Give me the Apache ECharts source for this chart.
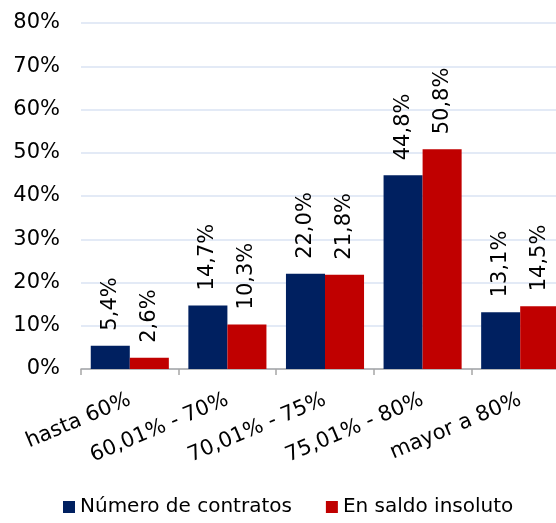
<!DOCTYPE html>
<html lang="es">
<head>
<meta charset="UTF-8">
<title>Distribución por tramo</title>
<script src="https://cdn.jsdelivr.net/npm/echarts@6/dist/echarts.min.js"></script>
<style>
  html, body { margin: 0; padding: 0; width: 100%; height: 100%; background: #fff; }
  #chart { width: 556px; height: 523px; }
</style>
</head>
<body>
<div id="chart"></div>
<script>
var categories = ['hasta 60%', '60,01% - 70%', '70,01% - 75%', '75,01% - 80%', 'mayor a 80%'];
var contratos = [5.4, 14.7, 22.0, 44.8, 13.1];
var saldo = [2.6, 10.3, 21.8, 50.8, 14.5];
var seriesNames = ['Número de contratos', 'En saldo insoluto'];

var font = 'DejaVu Sans';

function pct(v) {
  return v.toFixed(1).replace('.', ',') + '%';
}

var myChart = echarts.init(document.getElementById('chart'));

function labelCfg() {
  return {
    show: true,
    position: 'top',
    rotate: 90,
    align: 'left',
    verticalAlign: 'middle',
    distance: 15,
    fontFamily: font,
    fontSize: 21,
    color: '#000',
    formatter: function (p) { return pct(p.value); }
  };
}

var options = {
  animation: false,
  textStyle: { fontFamily: font },
  grid: { left: 81, top: 23, width: 488, bottom: 154, outerBoundsMode: 'none', containLabel: false },
  legend: {
    bottom: 1,
    left: 58,
    itemWidth: 12,
    itemHeight: 12,
    itemGap: 34,
    icon: 'rect',
    textStyle: { fontFamily: font, fontSize: 20, color: '#000' },
    data: seriesNames
  },
  xAxis: {
    type: 'category',
    data: categories,
    axisLine: { lineStyle: { color: '#a6a6a6', width: 1.5 } },
    axisTick: { show: true, length: 6, lineStyle: { color: '#a6a6a6', width: 1.5 } },
    axisLabel: {
      rotate: 23,
      interval: 0,
      margin: 30,
      fontFamily: font,
      fontSize: 21,
      color: '#000'
    }
  },
  yAxis: {
    type: 'value',
    min: 0,
    max: 80,
    interval: 10,
    axisLine: { show: false },
    axisTick: { show: false },
    splitLine: { lineStyle: { color: '#dae3f3', width: 1.5 } },
    axisLabel: {
      margin: 21,
      fontFamily: font,
      fontSize: 21,
      color: '#000',
      formatter: function (v) { return v + '%'; }
    }
  },
  series: [
    {
      name: seriesNames[0],
      type: 'bar',
      data: contratos,
      barWidth: '40%',
      barGap: '0%',
      itemStyle: { color: '#002060' },
      label: labelCfg()
    },
    {
      name: seriesNames[1],
      type: 'bar',
      data: saldo,
      barWidth: '40%',
      itemStyle: { color: '#c00000' },
      label: labelCfg()
    }
  ]
};

myChart.setOption(options);
</script>
</body>
</html>
